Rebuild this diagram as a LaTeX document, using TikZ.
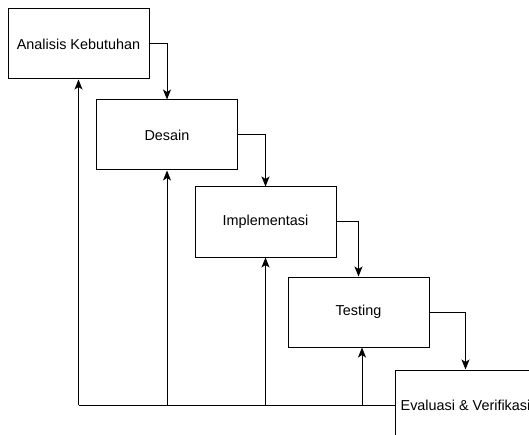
\documentclass[tikz,border=0pt]{standalone}
\usepackage{fontspec}
\setmainfont{Liberation Sans}
\usetikzlibrary{arrows.meta}

\begin{document}
\begin{tikzpicture}[x=1pt,y=-1pt,
  every path/.style={>={Stealth[length=10pt,width=8pt,inset=2.5pt]},line width=1pt},
  phase/.style={draw,rectangle,minimum width=141pt,minimum height=70pt,inner sep=0pt,
    font=\fontsize{14.4}{17}\selectfont,text=black}]
\useasboundingbox (0,0) rectangle (529,435);
\node[phase] (a) at (78.5,44)  {Analisis Kebutuhan};
\node[phase] (b) at (167,135)  {Desain};
\node[phase] (c) at (265.5,222) {Implementasi};
\node[phase] (d) at (358.5,312) {Testing};
\node[phase] (e) at (465.5,405) {Evaluasi \& Verifikasi};
% alur turun
\draw[->] (a.east) -| (b.north);
\draw[->] (b.east) -| (c.north);
\draw[->] (c.east) -| (d.north);
\draw[->] (d.east) -| (e.north);
% umpan balik
\coordinate (f1) at (a |- e.west);
\coordinate (f2) at (b |- e.west);
\coordinate (f3) at (c |- e.west);
\coordinate (f4) at (362,405);
\draw (e.west) -- (f1);
\draw[->] (f1) -- (a.south);
\draw[->] (f2) -- (b.south);
\draw[->] (f3) -- (c.south);
\draw[->] (f4) -- (f4 |- d.south);
\end{tikzpicture}
\end{document}
